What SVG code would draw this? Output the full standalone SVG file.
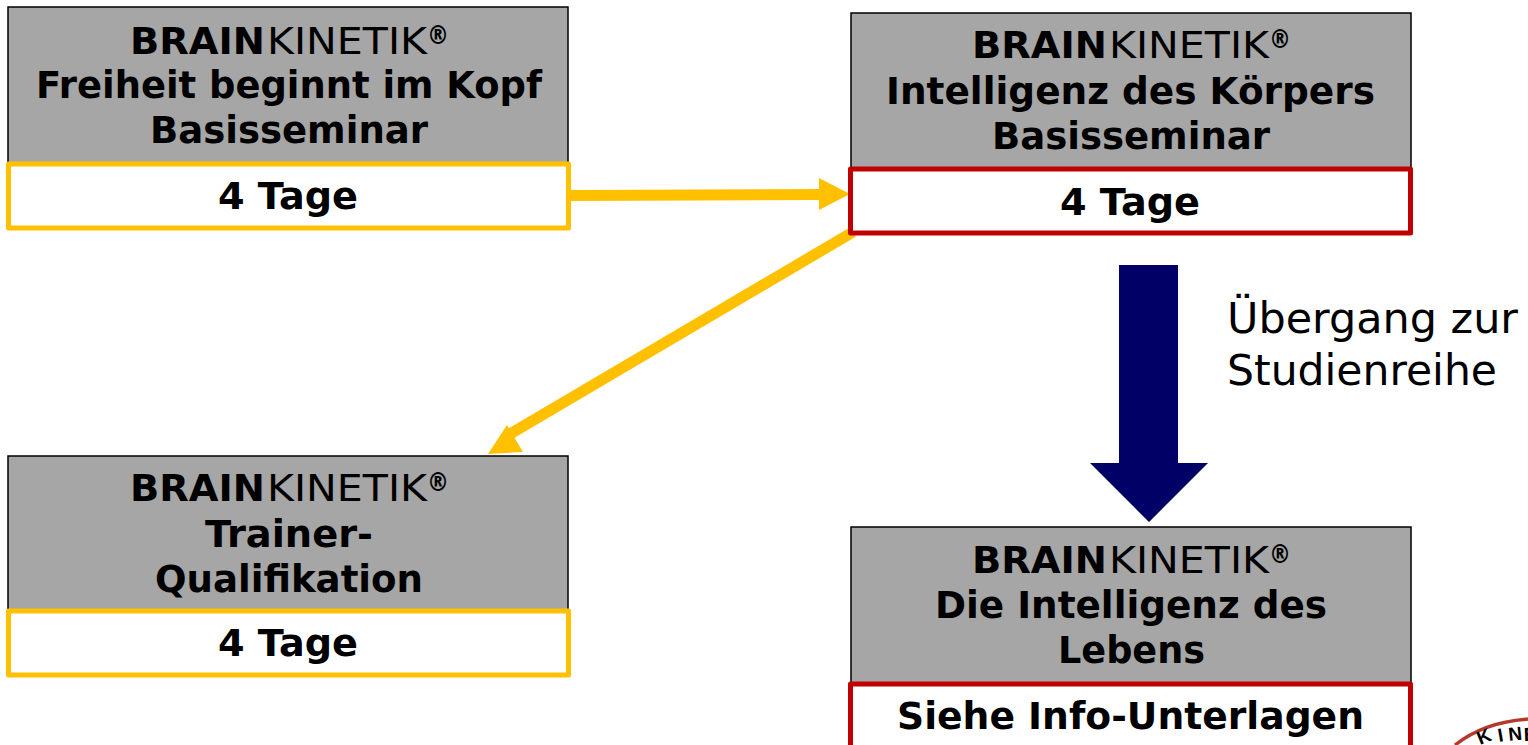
<svg xmlns="http://www.w3.org/2000/svg" width="1528" height="745" viewBox="0 0 1528 745">
<style>
text{font-family:"DejaVu Sans",Verdana,sans-serif;text-anchor:middle;fill:#000}
.t{font-size:37px;font-weight:700}
.h{text-anchor:start}
.k{font-weight:400}
.r{font-size:26px;font-weight:700}
.g{fill:#a6a6a6;stroke:#000;stroke-width:1.5}
.y{fill:#fff;stroke:#ffc000;stroke-width:5;stroke-linejoin:round}
.c{fill:#fff;stroke:#c00000;stroke-width:5;stroke-linejoin:round}
.a{fill:none;stroke:#ffc000;stroke-width:11}
.ah{fill:#ffc000}
.l{font-size:42px;text-anchor:start}
</style>
<g id="connectors">
<line class="a" x1="570" y1="195.500" x2="822" y2="194.500"/>
<polygon class="ah" points="819,178 850,194 819,210"/>
<line class="a" x1="853" y1="232" x2="510" y2="434"/>
<polygon class="ah" points="507,425 523,452 488,454"/>
<polygon id="navy-arrow" fill="#000066" points="1119,265 1178,265 1178,463 1208,463 1149,522 1090,463 1119,463"/>
</g>
<g id="node-freiheit">
<rect class="g" x="8" y="7" width="560" height="156"/>
<rect class="y" x="8.500" y="164" width="560" height="64"/>
<text class="t h" y="54"><tspan x="130" textLength="135" lengthAdjust="spacingAndGlyphs">BRAIN</tspan><tspan class="k" x="267" textLength="160" lengthAdjust="spacingAndGlyphs">KINETIK</tspan><tspan class="r" x="427" dy="-10" textLength="22" lengthAdjust="spacingAndGlyphs">®</tspan></text>
<text class="t" x="289" y="98" textLength="506" lengthAdjust="spacingAndGlyphs">Freiheit beginnt im Kopf</text>
<text class="t" x="289" y="143" textLength="278" lengthAdjust="spacingAndGlyphs">Basisseminar</text>
<text class="t" x="288" y="209" textLength="140" lengthAdjust="spacingAndGlyphs">4 Tage</text>
</g>
<g id="node-koerper">
<rect class="g" x="851" y="13" width="560" height="156"/>
<rect class="c" x="850.500" y="169" width="560" height="64"/>
<text class="t h" y="58"><tspan x="972" textLength="135" lengthAdjust="spacingAndGlyphs">BRAIN</tspan><tspan class="k" x="1109" textLength="160" lengthAdjust="spacingAndGlyphs">KINETIK</tspan><tspan class="r" x="1269" dy="-10" textLength="22" lengthAdjust="spacingAndGlyphs">®</tspan></text>
<text class="t" x="1130.500" y="104" textLength="489" lengthAdjust="spacingAndGlyphs">Intelligenz des Körpers</text>
<text class="t" x="1131" y="149" textLength="278" lengthAdjust="spacingAndGlyphs">Basisseminar</text>
<text class="t" x="1130" y="215" textLength="140" lengthAdjust="spacingAndGlyphs">4 Tage</text>
</g>
<g id="node-trainer">
<rect class="g" x="8" y="456" width="560" height="156"/>
<rect class="y" x="8.500" y="611" width="560" height="64"/>
<text class="t h" y="501"><tspan x="130" textLength="135" lengthAdjust="spacingAndGlyphs">BRAIN</tspan><tspan class="k" x="267" textLength="160" lengthAdjust="spacingAndGlyphs">KINETIK</tspan><tspan class="r" x="427" dy="-10" textLength="22" lengthAdjust="spacingAndGlyphs">®</tspan></text>
<text class="t" x="289" y="547" textLength="168" lengthAdjust="spacingAndGlyphs">Trainer-</text>
<text class="t" x="289" y="592" textLength="268" lengthAdjust="spacingAndGlyphs">Qualifikation</text>
<text class="t" x="288" y="656" textLength="140" lengthAdjust="spacingAndGlyphs">4 Tage</text>
</g>
<g id="node-leben">
<rect class="g" x="851" y="527" width="560" height="156"/>
<rect class="c" x="850.500" y="684" width="560" height="70"/>
<text class="t h" y="573"><tspan x="972" textLength="135" lengthAdjust="spacingAndGlyphs">BRAIN</tspan><tspan class="k" x="1109" textLength="160" lengthAdjust="spacingAndGlyphs">KINETIK</tspan><tspan class="r" x="1269" dy="-10" textLength="22" lengthAdjust="spacingAndGlyphs">®</tspan></text>
<text class="t" x="1131" y="618" textLength="392" lengthAdjust="spacingAndGlyphs">Die Intelligenz des</text>
<text class="t" x="1131.500" y="663" textLength="147" lengthAdjust="spacingAndGlyphs">Lebens</text>
<text class="t" x="1130.500" y="729" textLength="467" lengthAdjust="spacingAndGlyphs">Siehe Info-Unterlagen</text>
</g>
<g id="label">
<text class="l" x="1227" y="333" textLength="291" lengthAdjust="spacingAndGlyphs">Übergang zur</text>
<text class="l" x="1227" y="385" textLength="270" lengthAdjust="spacingAndGlyphs">Studienreihe</text>
</g>
<g id="logo">
<path d="M1455,745 Q1484,722 1528,719" fill="none" stroke="#b5392b" stroke-width="3.500"/>
<text x="1480 1499 1509 1524" y="745 742 741 741" rotate="-22 -10 -6 -2" font-size="19" font-weight="700" fill="#2a2a2a" style="font-family:'Liberation Sans',sans-serif;text-anchor:start">KINE</text>
</g>
</svg>
